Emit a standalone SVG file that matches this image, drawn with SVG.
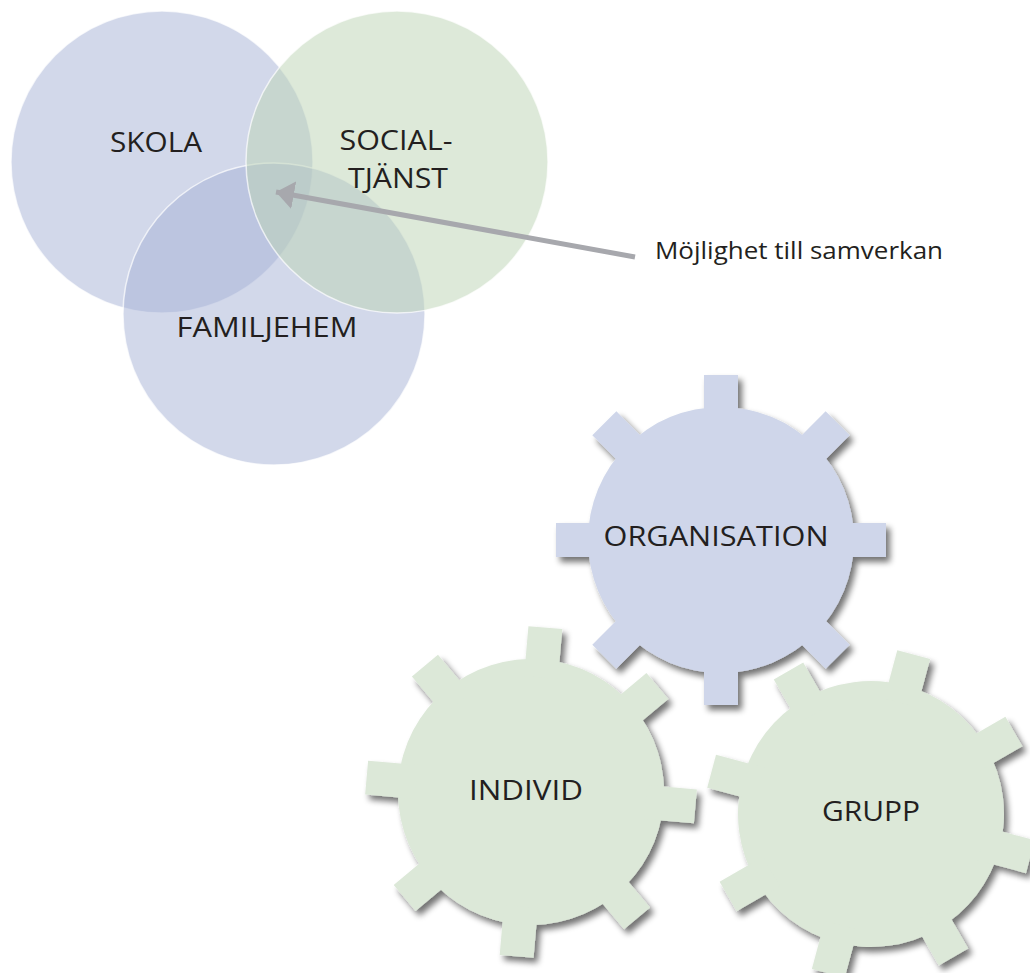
<svg xmlns="http://www.w3.org/2000/svg" xmlns:xlink="http://www.w3.org/1999/xlink" width="1030" height="973" viewBox="0 0 1030 973">
  <style>
    .lbl { font-family: "Open Sans", "Liberation Sans", sans-serif; font-size: 27px; fill: #231f20; text-anchor: middle; }
    .note { font-family: "Open Sans", "Liberation Sans", sans-serif; font-size: 24px; fill: #231f20; }
    .blue { fill: #a5b1d5; fill-opacity: 0.5; stroke: #ffffff; stroke-opacity: 0.7; stroke-width: 1.5; }
    .green { fill: #bbd3b3; fill-opacity: 0.5; stroke: #ffffff; stroke-opacity: 0.7; stroke-width: 1.5; }
  </style>
  <defs>
    <filter id="shadow" x="-20%" y="-20%" width="150%" height="150%">
      <feGaussianBlur in="SourceAlpha" stdDeviation="3"/>
      <feOffset dx="4" dy="5" result="b"/>
      <feComponentTransfer><feFuncA type="linear" slope="0.55"/></feComponentTransfer>
      <feMerge><feMergeNode/><feMergeNode in="SourceGraphic"/></feMerge>
    </filter>
    <g id="gear">
      <circle cx="0" cy="0" r="133"/>
      <rect x="-17" y="-165" width="34" height="50"/>
      <rect x="-17" y="-165" width="34" height="50" transform="rotate(45)"/>
      <rect x="-17" y="-165" width="34" height="50" transform="rotate(90)"/>
      <rect x="-17" y="-165" width="34" height="50" transform="rotate(135)"/>
      <rect x="-17" y="-165" width="34" height="50" transform="rotate(180)"/>
      <rect x="-17" y="-165" width="34" height="50" transform="rotate(225)"/>
      <rect x="-17" y="-165" width="34" height="50" transform="rotate(270)"/>
      <rect x="-17" y="-165" width="34" height="50" transform="rotate(315)"/>
    </g>
    <marker id="head" markerWidth="3.6" markerHeight="5.6" refX="3.6" refY="2.8" orient="auto" markerUnits="strokeWidth" viewBox="0 0 3.6 5.6">
      <path d="M0,0 L3.6,2.8 L0,5.6 Z" fill="#a7a8ad"/>
    </marker>
  </defs>

  <g id="skola">
    <circle class="blue" cx="162" cy="162" r="151"/>
  </g>
  <g id="familjehem">
    <circle class="blue" cx="274" cy="314" r="151"/>
  </g>
  <g id="socialtjanst">
    <circle class="green" cx="397" cy="162" r="151"/>
  </g>
  <g id="venn-labels">
    <text class="lbl" x="156" y="152" textLength="92" lengthAdjust="spacingAndGlyphs">SKOLA</text>
    <text class="lbl" x="396" y="150" textLength="113" lengthAdjust="spacingAndGlyphs">SOCIAL-</text>
    <text class="lbl" x="398" y="188" textLength="100" lengthAdjust="spacingAndGlyphs">TJÄNST</text>
    <text class="lbl" x="267" y="337" textLength="181" lengthAdjust="spacingAndGlyphs">FAMILJEHEM</text>
  </g>

  <g id="connectors">
    <line x1="635" y1="257" x2="276" y2="192" stroke="#a7a8ad" stroke-width="5" marker-end="url(#head)"/>
  </g>
  <g id="note">
    <text class="note" x="655" y="259" textLength="288" lengthAdjust="spacingAndGlyphs">Möjlighet till samverkan</text>
  </g>

  <g id="individ">
    <g filter="url(#shadow)">
      <use xlink:href="#gear" transform="translate(531,792) rotate(5)" fill="#dce8d8"/>
    </g>
    <text class="lbl" x="526" y="800" textLength="114" lengthAdjust="spacingAndGlyphs">INDIVID</text>
  </g>
  <g id="grupp">
    <g filter="url(#shadow)">
      <use xlink:href="#gear" transform="translate(871,814) rotate(15)" fill="#dce8d8"/>
    </g>
    <text class="lbl" x="871" y="821" textLength="98" lengthAdjust="spacingAndGlyphs">GRUPP</text>
  </g>
  <g id="organisation">
    <g filter="url(#shadow)">
      <use xlink:href="#gear" transform="translate(721,540)" fill="#cfd6ea"/>
    </g>
    <text class="lbl" x="716" y="546" textLength="225" lengthAdjust="spacingAndGlyphs">ORGANISATION</text>
  </g>
</svg>
